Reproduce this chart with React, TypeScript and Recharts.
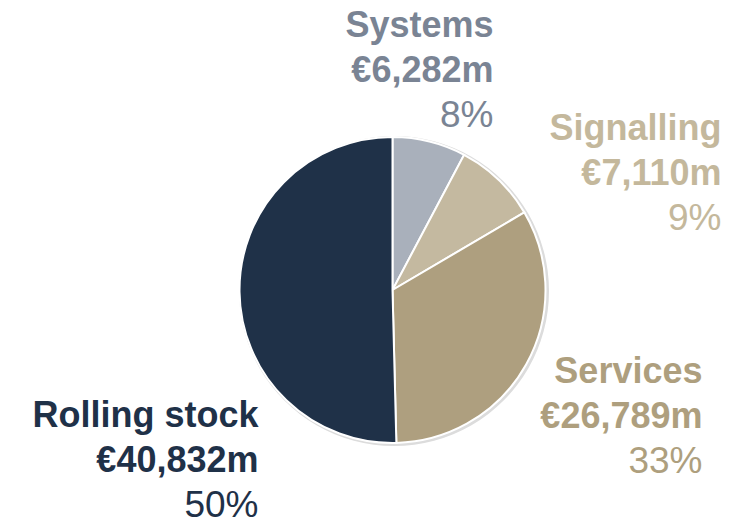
import { Cell, Pie, PieChart } from "recharts";

const segments = ["Systems", "Signalling", "Services", "Rolling stock"];
const valuesEurM = [6282, 7110, 26789, 40832];

const SLICE_COLORS = ["#A9B0BB", "#C4B9A0", "#AE9F7F", "#1F3148"];
const TEXT_COLORS = ["#7A8494", "#C4B89C", "#AE9F7E", "#1F3148"];

// label anchor (right edge, first baseline) relative to pie centre
const LABEL_OFFSETS = [
  { dx: 101, dy: -253 },
  { dx: 329, dy: -150 },
  { dx: 310, dy: 93 },
  { dx: -134, dy: 137 },
];

const WIDTH = 743;
const HEIGHT = 524;
const LINE = 45;

const data = segments.map((name, i) => ({ name, value: valuesEurM[i] }));
const shadow = [{ name: "shadow", value: 1 }];

function renderLabel(props: any) {
  const { cx, cy, index, value, percent, name } = props;
  const off = LABEL_OFFSETS[index];
  const x = cx + off.dx;
  const y = cy + off.dy;
  const color = TEXT_COLORS[index];
  return (
    <text
      key={`lbl-${index}`}
      x={x}
      y={y}
      textAnchor="end"
      fill={color}
      fontFamily="'Liberation Sans', Arial, sans-serif"
      fontSize={36}
    >
      <tspan x={x} y={y} fontWeight="bold">{name}</tspan>
      <tspan x={x} y={y + LINE} fontWeight="bold">
        €{value.toLocaleString("en-US")}m
      </tspan>
      <tspan x={x} y={y + LINE * 2} fontSize={37}>{Math.round(percent * 100)}%</tspan>
    </text>
  );
}

export default function App() {
  return (
    <div style={{ position: "absolute", left: 0, top: 0, width: WIDTH, height: HEIGHT, background: "#fff" }}>
      <PieChart width={WIDTH} height={HEIGHT} margin={{ top: 0, right: 0, bottom: 0, left: 0 }}>
        <Pie
          data={shadow}
          dataKey="value"
          cx={394}
          cy={291}
          outerRadius={155}
          fill="#dcdcdc"
          stroke="none"
          isAnimationActive={false}
        />
        <Pie
          data={data}
          dataKey="value"
          nameKey="name"
          cx={392.5}
          cy={290}
          outerRadius={153}
          startAngle={90}
          endAngle={-270}
          stroke="#ffffff"
          strokeWidth={2}
          label={renderLabel}
          labelLine={false}
          isAnimationActive={false}
        >
          {data.map((d, i) => (
            <Cell key={d.name} fill={SLICE_COLORS[i]} />
          ))}
        </Pie>
      </PieChart>
    </div>
  );
}
